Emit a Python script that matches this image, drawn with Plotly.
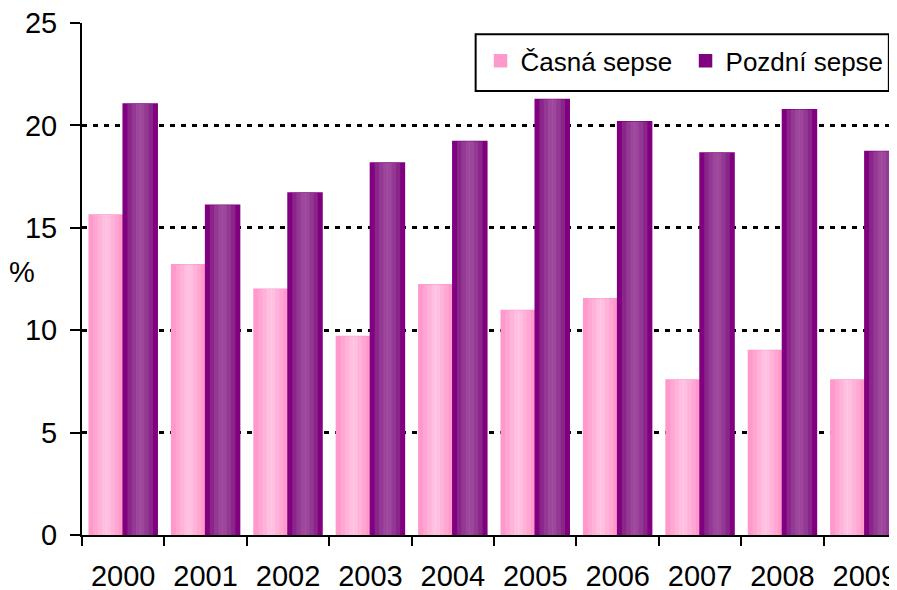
import plotly.graph_objects as go

years = ["2000", "2001", "2002", "2003", "2004", "2005", "2006", "2007", "2008", "2009"]
casna = [15.63, 13.2, 12.0, 9.69, 12.22, 10.96, 11.54, 7.57, 9.01, 7.57]
pozdni = [21.05, 16.1, 16.7, 18.16, 19.21, 21.26, 20.18, 18.65, 20.77, 18.73]

FONT = "Liberation Sans, Arial, sans-serif"

# horizontal gradient shades (edge -> centre)
pink_shades = ["#FF99CC", "#FFA6D3", "#FFB3D9", "#FFBFE0", "#FFC9E5"]
purple_shades = ["#800080", "#8A268A", "#933993", "#9C469C", "#A34DA3"]

fig = go.Figure()
W = 0.4125
steps = len(pink_shades)
for name, vals, shades, base_off in [("Časná sepse", casna, pink_shades, -W),
                                      ("Pozdní sepse", pozdni, purple_shades, 0.0)]:
    for i, col in enumerate(shades):
        shrink = W * i / (steps * 1.6)
        w = W - 2 * shrink
        fig.add_trace(go.Bar(
            x=years, y=vals, name=name,
            width=w, offset=base_off + shrink,
            marker=dict(color=col,
                        line=dict(color=shades[0], width=1.5 if i == 0 else 0)),
            showlegend=(i == 0), legendgroup=name, hoverinfo="skip" if i else None,
        ))

fig.update_layout(
    width=889, height=582,
    barmode="overlay",
    paper_bgcolor="white", plot_bgcolor="white",
    margin=dict(l=74, r=0, t=15, b=54.5, autoexpand=False),
    font=dict(family=FONT, color="black"),
    legend=dict(
        orientation="h", x=0.489, xanchor="left", y=0.926, yanchor="middle",
        bgcolor="rgba(0,0,0,0)", borderwidth=0,
        font=dict(size=26, family=FONT), itemwidth=30,
        entrywidth=160, entrywidthmode="pixels",
    ),
    xaxis=dict(
        type="category", range=[-0.5, 9.39],
        showline=True, linecolor="black", linewidth=2,
        ticks="outside", tickson="boundaries", ticklen=9, tickwidth=2, tickcolor="black",
        tickfont=dict(size=29, family=FONT, color="black"),
        ticklabelstandoff=14, showgrid=False, ticklabeloverflow="allow",
    ),
    yaxis=dict(
        range=[0, 25], tickvals=[0, 5, 10, 15, 20, 25],
        showline=True, linecolor="black", linewidth=2,
        ticks="outside", ticklen=10, tickwidth=2, tickcolor="black",
        tickfont=dict(size=29, family=FONT, color="black"),
        ticklabelstandoff=7, ticklabeloverflow="allow",
        showgrid=True, gridcolor="black", gridwidth=2.5, griddash="5px,6px",
        zeroline=False,
    ),
    shapes=[dict(type="rect", xref="paper", yref="paper",
                 x0=0.483, x1=0.990, y0=0.867, y1=0.978,
                 line=dict(color="black", width=2), fillcolor="white", layer="above")],
    annotations=[dict(text="%", xref="paper", yref="paper", x=-0.0736, y=0.514,
                      xanchor="center", yanchor="middle",
                      showarrow=False, font=dict(size=29, family=FONT, color="black"))],
)

fig.write_html("out.html")
